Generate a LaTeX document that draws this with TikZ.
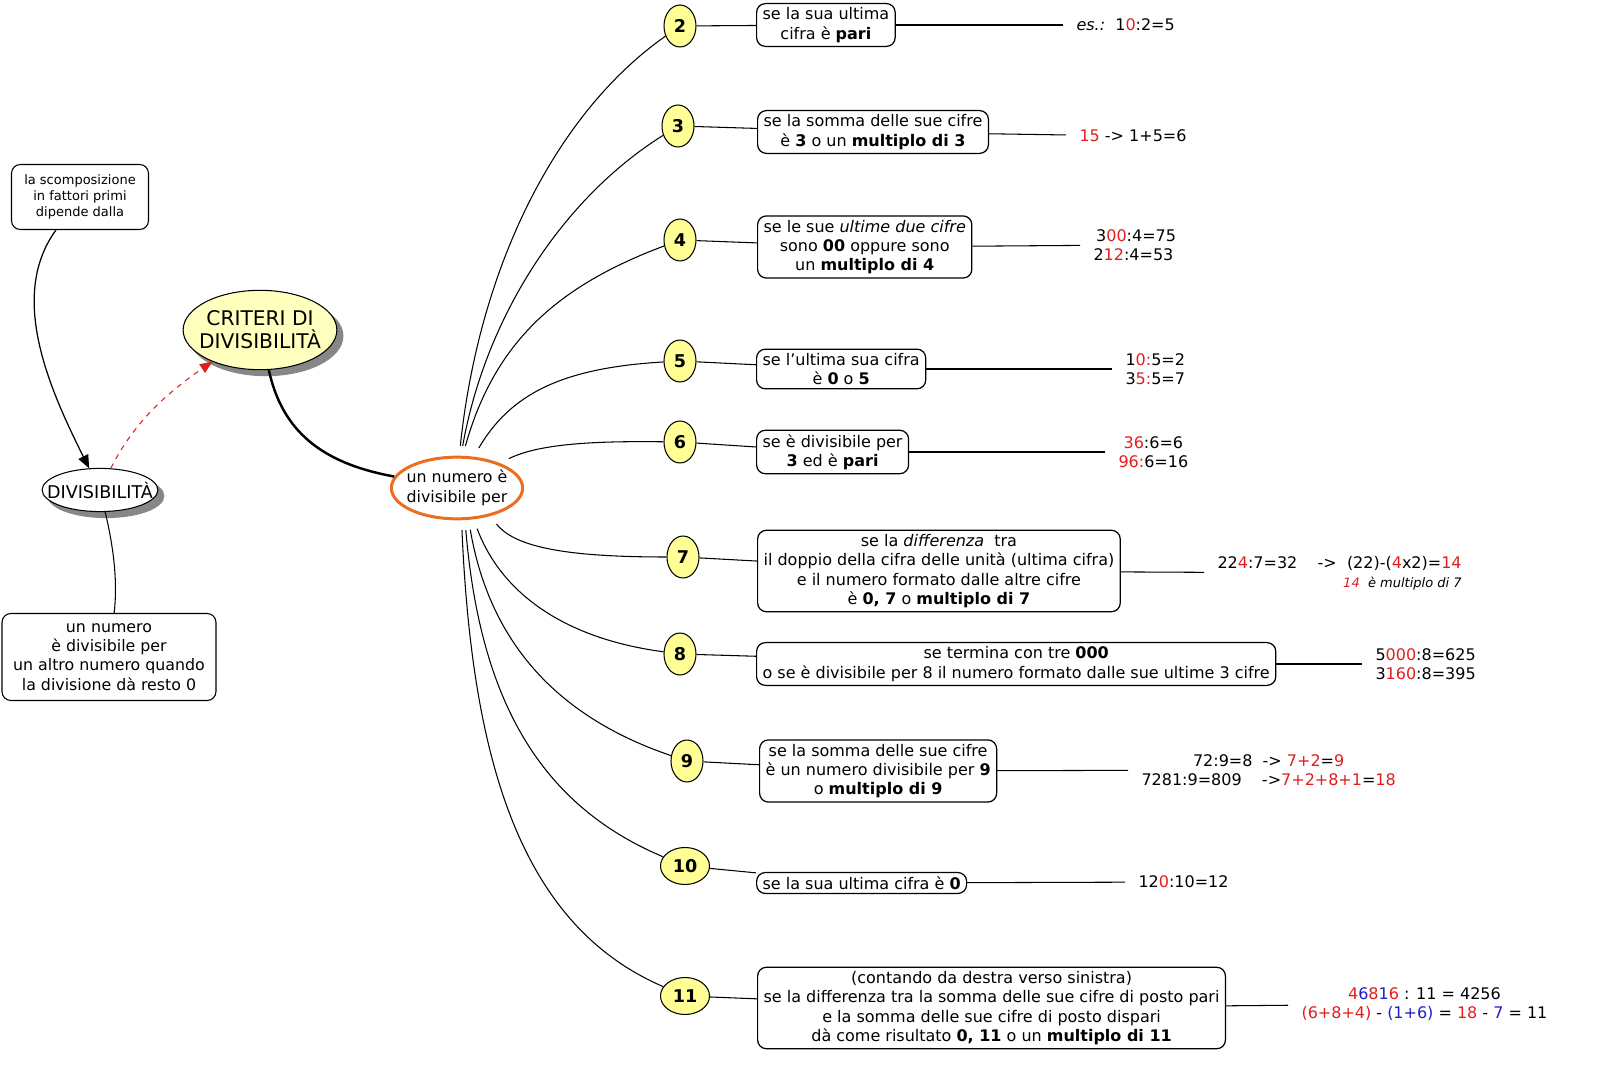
\documentclass[tikz,border=0pt]{standalone}
\usepackage{fontspec}
\setmainfont{DejaVu Sans}
\usepackage{tikz}
\usetikzlibrary{arrows,shapes,shadows,calc}
\definecolor{rosso}{RGB}{225,30,30}
\definecolor{blu}{RGB}{30,30,200}
\definecolor{arancio}{RGB}{235,110,30}
\definecolor{giallo}{RGB}{255,255,150}
\definecolor{giallochiaro}{RGB}{255,255,190}
\definecolor{ombra}{RGB}{135,135,135}
\newcommand{\rd}[1]{\textcolor{rosso}{#1}}
\newcommand{\bl}[1]{\textcolor{blu}{#1}}
\tikzstyle{ramo}=[line width=0.6pt, shorten <=0.2cm]
\tikzstyle{regola}=[draw, rounded corners=5pt, line width=0.7pt, align=center,
                inner xsep=0.12cm, inner ysep=0.08cm, anchor=west,
                font=\fontsize{9.1}{11}\selectfont]
\tikzstyle{num}=[ellipse, draw, fill=giallo, line width=0.6pt, minimum width=0.64cm,
                minimum height=0.84cm, inner sep=0, font=\fontsize{10}{12}\selectfont\bfseries]
\tikzstyle{numlargo}=[num, minimum width=0.98cm, minimum height=0.74cm]
\tikzstyle{es}=[anchor=west, inner xsep=0.26cm, inner ysep=0, align=center,
                font=\fontsize{9.1}{10.8}\selectfont]
\tikzstyle{ombreggiato}=[general shadow={fill=ombra, draw=ombra, shadow xshift=0.12cm, shadow yshift=-0.12cm}]

\begin{document}
\begin{tikzpicture}[x=0.02cm, y=-0.02cm, line width=0.6pt]
\useasboundingbox (0,0) rectangle (1600,1077);
% parte sinistra
\node (scomp) at (80,197) [draw, rounded corners=5pt, align=center, minimum width=2.74cm,
      minimum height=1.3cm, font=\fontsize{7.4}{9.1}\selectfont] {la scomposizione\\ in fattori primi\\ dipende dalla};
\node (div) at (100,490) [ellipse, draw, fill=white, ombreggiato, inner xsep=-0.24cm, inner ysep=0.14cm,
      font=\fontsize{10}{12}\selectfont] {DIVISIBILITÀ};
\node (crit) at (260,330) [ellipse, draw, fill=giallochiaro, ombreggiato, align=center, inner xsep=-0.13cm,
      inner ysep=0.18cm, font=\fontsize{11.5}{13}\selectfont] {CRITERI DI\\DIVISIBILITÀ};
\node (def) at (109,657) [draw, rounded corners=5pt, align=center, minimum width=4.28cm, minimum height=1.74cm,
      font=\fontsize{9}{11}\selectfont] {un numero\\è divisibile per\\un altro numero quando\\la divisione dà resto 0};
\node (c) at (457,488) [ellipse, draw=arancio, line width=1.7pt, align=center, inner xsep=-0.08cm,
      inner ysep=0.08cm, font=\fontsize{9}{11.2}\selectfont] {un numero è\\divisibile per};

\draw[->, >=triangle 45, line width=0.7pt] (scomp) .. controls (5,300) and (55,400) .. (div);
\draw[->, >=triangle 45, dashed, rosso] (div) .. controls (135,420) and (170,390) .. (crit);
\draw (div) .. controls (113,545) and (118,580) .. (def);
\draw[line width=1.4pt] (crit) .. controls (282,430) and (320,463) .. (c);

% numeri
\node (n2) at (680,26) [num] {2};
\node (n3) at (678,126) [num] {3};
\node (n4) at (680,240) [num] {4};
\node (n5) at (680,361) [num] {5};
\node (n6) at (680,442) [num] {6};
\node (n7) at (683,557) [num] {7};
\node (n8) at (680,654) [num] {8};
\node (n9) at (687,761) [num] {9};
\node (n10) at (685,866) [numlargo] {10};
\node (n11) at (685,996) [numlargo] {11};

\draw[ramo] (c.86) .. controls (480,260) and (560,110) .. (n2);
\draw[ramo] (c.83) .. controls (485,320) and (560,200) .. (n3);
\draw[ramo] (c.80) .. controls (495,340) and (560,285) .. (n4);
\draw[ramo] (c.62) .. controls (510,395) and (560,368) .. (n5);
\draw[ramo] (c.30) .. controls (540,443) and (600,441) .. (n6);
\draw[ramo] (c.-40) .. controls (515,548) and (570,557) .. (n7);
\draw[ramo] (c.-62) .. controls (500,590) and (560,638) .. (n8);
\draw[ramo] (c.-70) .. controls (490,645) and (560,718) .. (n9);
\draw[ramo] (c.-76) .. controls (480,700) and (540,805) .. (n10);
\draw[ramo] (c.-82) .. controls (472,760) and (520,925) .. (n11);

% regole
\node (b2) at (756,25) [regola] {se la sua ultima\\cifra è \textbf{pari}};
\node (b3) at (757,132) [regola] {se la somma delle sue cifre\\è \textbf{3} o un \textbf{multiplo di 3}};
\node (b4) at (757,247) [regola] {se le sue \textit{ultime due cifre}\\sono \textbf{00} oppure sono\\un \textbf{multiplo di 4}};
\node (b5) at (756,369) [regola] {se l'ultima sua cifra\\è \textbf{0} o \textbf{5}};
\node (b6) at (756,452) [regola] {se è divisibile per\\\textbf{3} ed è \textbf{pari}};
\node (b7) at (757,571) [regola] {se la \textit{differenza}\ \ tra\\il doppio della cifra delle unità (ultima cifra)\\e il numero formato dalle altre cifre\\è \textbf{0, 7} o \textbf{multiplo di 7}};
\node (b8) at (756,664) [regola] {se termina con tre \textbf{000}\\o se è divisibile per 8 il numero formato dalle sue ultime 3 cifre};
\node (b9) at (759,771) [regola] {se la somma delle sue cifre\\è un numero divisibile per \textbf{9}\\o \textbf{multiplo di 9}};
\node (b10) at (756,883) [regola] {se la sua ultima cifra è \textbf{0}};
\node (b11) at (757,1008) [regola] {(contando da destra verso sinistra)\\se la differenza tra la somma delle sue cifre di posto pari\\e la somma delle sue cifre di posto dispari\\dà come risultato \textbf{0, 11} o un \textbf{multiplo di 11}};

% esempi
\node (e2) at (1063,25) [es] {\textit{es.:}\ \ 1\rd{0}:2=5};
\node (e3) at (1066,136) [es] {\rd{15} -> 1+5=6};
\node (e4) at (1080,245) [es, align=left] {\,3\rd{00}:4=75\\2\rd{12}:4=53};
\node (e5) at (1112,369) [es] {1\rd{0:}5=2\\3\rd{5:}5=7};
\node (e6) at (1105,452) [es] {\rd{36}:6=6\\\rd{96:}6=16};
\node (e7) at (1204,573) [es, align=right] {22\rd{4}:7=32\ \ \ \ ->\ \ (22)-(\rd{4}x2)=\rd{14}\\
      {\fontsize{7.4}{9}\selectfont\itshape\rd{14}\ \ è multiplo di 7}};
\node (e8) at (1362,664) [es] {5\rd{000}:8=625\\3\rd{160}:8=395};
\node (e9) at (1128,770) [es] {72:9=8\ \ -> \rd{7+2}=\rd{9}\\7281:9=809\ \ \ \ ->\rd{7+2+8+1}=\rd{18}};
\node (e10) at (1125,882) [es] {12\rd{0}:10=12};
\node (e11) at (1288,1004) [es] {\rd{4}\bl{6}\rd{8}\bl{1}\rd{6} : 11 = 4256\\
      \rd{(6+8+4)} - \bl{(1+6)} = \rd{18} - \bl{7} = 11};

\foreach \i in {2,...,11}
{
\draw (n\i) -- (b\i);
\draw (b\i) -- (e\i);
}
\end{tikzpicture}
\end{document}
